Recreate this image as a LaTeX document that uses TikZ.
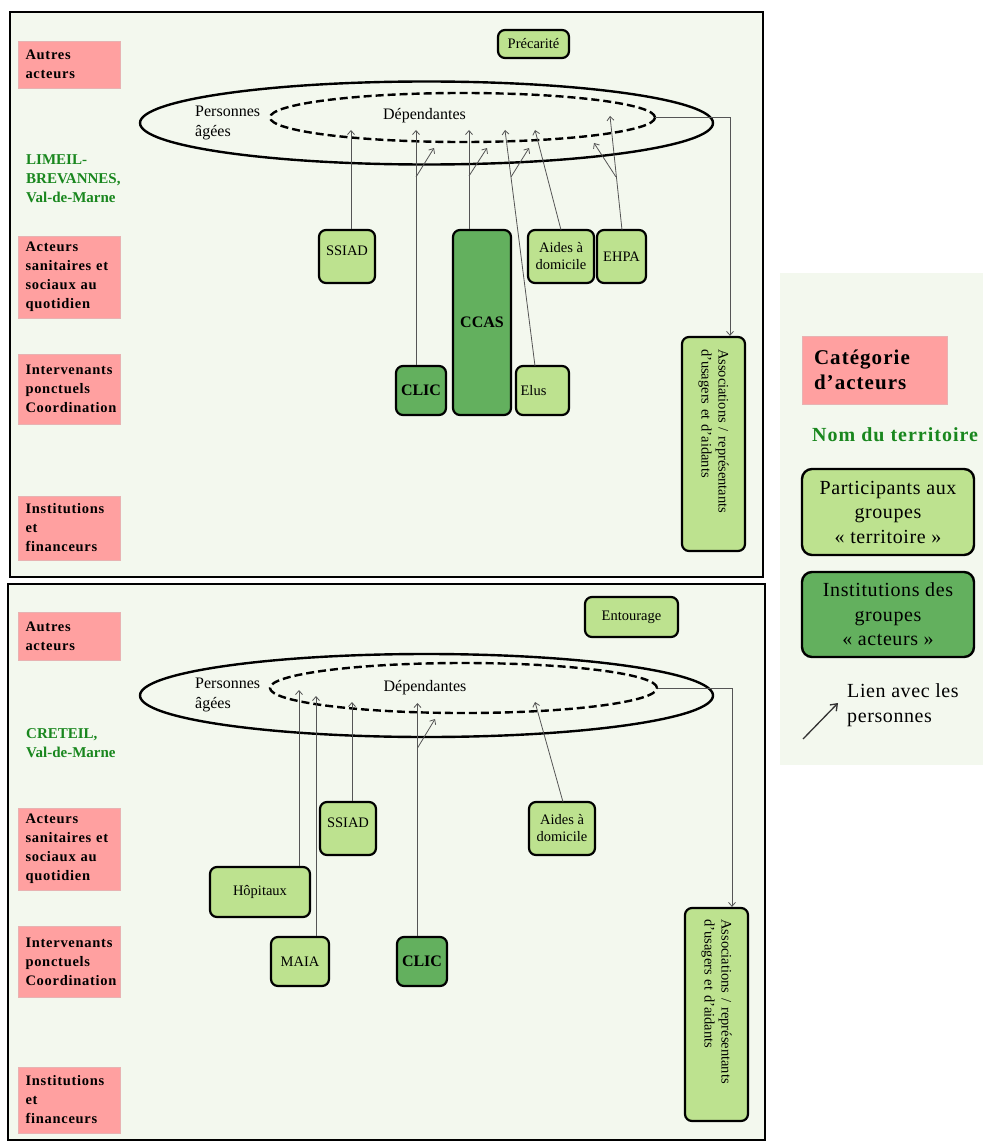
\documentclass[tikz,border=0pt]{standalone}
\usepackage{fontspec}
\setmainfont{Liberation Serif}
\usetikzlibrary{arrows.meta,shapes.geometric}
\definecolor{pinkc}{RGB}{255,160,160}
\definecolor{pinkb}{RGB}{232,178,178}
\definecolor{lgreen}{RGB}{189,226,143}
\definecolor{dgreen}{RGB}{99,176,94}
\definecolor{panelbg}{RGB}{243,248,238}
\definecolor{terrc}{RGB}{25,135,30}
\definecolor{conncol}{RGB}{85,85,85}
\begin{document}
\begin{tikzpicture}[x=1pt,y=-1pt,
  conn/.style={draw=conncol, line width=0.8pt, -{Straight Barb[length=4pt,width=7pt]}},
  nodebox/.style={draw=black, line width=2.2pt, rounded corners=7pt, inner sep=2pt, align=center, font=\fontsize{14.5}{17}\selectfont},
  lg/.style={nodebox, fill=lgreen},
  dg/.style={nodebox, fill=dgreen, font=\bfseries\fontsize{16}{19}\selectfont},
  cat/.style={fill=pinkc, draw=pinkb, line width=0.8pt, align=left, text width=88pt, inner xsep=7pt, inner ysep=0pt, minimum width=102pt, font={\bfseries\fontsize{14.5}{19}\selectfont\addfontfeature{LetterSpace=5}}},
  terr/.style={text=terrc, anchor=west, align=left, inner sep=0pt, font=\bfseries\fontsize{15}{19}\selectfont},
  ell/.style={draw=black, line width=2.4pt, ellipse, inner sep=0pt},
  dell/.style={ell, dash pattern=on 8pt off 4pt},
  lab/.style={inner sep=0pt, font=\fontsize{16}{20}\selectfont},
  legbox/.style={draw=black, line width=2.4pt, rounded corners=10pt, inner sep=2pt, align=center, font={\fontsize{20}{24.5}\selectfont\addfontfeature{LetterSpace=3}}},
  legtxt/.style={inner sep=0pt, align=left, font={\fontsize{20}{24.5}\selectfont\addfontfeature{LetterSpace=3}}}
]
\useasboundingbox (0,0) rectangle (983,1142);
% panels
\draw[draw=black, line width=1.5pt, fill=panelbg] (10,12) rectangle (763,577);
\draw[draw=black, line width=1.5pt, fill=panelbg] (8,584) rectangle (765,1140);
\fill[panelbg] (780,273) rectangle (983,765);

% ===== top panel =====
\node[cat, minimum height=47pt] (ca1) at (69.5,64.5) {Autres\\acteurs};
\node[cat, minimum height=82pt] (cb1) at (69.5,277) {Acteurs\\sanitaires et\\sociaux au\\quotidien};
\node[cat, minimum height=70pt] (cc1) at (69.5,389) {Intervenants\\ponctuels\\Coordination};
\node[cat, minimum height=64pt] (cd1) at (69.5,528) {Institutions\\et\\financeurs};
\node[terr] (terr1) at (26,179) {LIMEIL-\\BREVANNES,\\Val-de-Marne};

\node[ell, minimum width=573pt, minimum height=83pt] (pa1) at (426.5,123) {};
\node[dell, minimum width=385pt, minimum height=49pt] (dep1) at (462.5,117.5) {};
\node[lab, anchor=west, align=left] (pal1) at (195,123) {Personnes\\âgées};
\node[lab] (depl1) at (424.5,116) {Dépendantes};

\node[lg, minimum width=71pt, minimum height=28pt] (prec1) at (533.5,44) {Précarité};
\node[lg, minimum width=56pt, minimum height=53pt] (ssiad1) at (347,256.5) {\raisebox{12pt}{SSIAD}};
\node[dg, minimum width=58pt, minimum height=185pt] (ccas1) at (482,322.5) {CCAS};
\node[lg, minimum width=66pt, minimum height=53pt] (aides1) at (561,256.5) {Aides à\\domicile};
\node[lg, minimum width=49pt, minimum height=53pt] (ehpa1) at (621.5,256.5) {EHPA};
\node[dg, minimum width=50pt, minimum height=49pt] (clic1) at (421,390.5) {CLIC};
\node[lg, minimum width=53pt, minimum height=49pt] (elus1) at (542.5,390.5) {Elus\hspace{18pt}};
\node[lg, rotate=-90, minimum width=214pt, minimum height=63pt, text width=190pt, align=left] (asso1) at (713.5,444) {Associations / représentants\\d’usagers et d’aidants};

% top connectors
\coordinate (ts1) at (351,130);
\draw[conn] (ts1 |- ssiad1.north) -- (ts1);
\coordinate (tc1) at (416,130);
\coordinate (bc1) at (416,177);
\coordinate (ec1) at (434,148);
\draw[conn] (tc1 |- clic1.north) -- (tc1);
\draw[conn] (bc1) -- (ec1);
\coordinate (tca1) at (469,130);
\coordinate (bca1) at (469,176);
\coordinate (eca1) at (487,148);
\draw[conn] (tca1 |- ccas1.north) -- (tca1);
\draw[conn] (bca1) -- (eca1);
\coordinate (se1) at (535,366);
\coordinate (te1) at (505,130);
\coordinate (be1) at (511,177);
\coordinate (ee1) at (529,148);
\draw[conn] (se1) -- (te1);
\draw[conn] (be1) -- (ee1);
\coordinate (sa1) at (561,230);
\coordinate (ta1) at (535,130);
\draw[conn] (sa1) -- (ta1);
\coordinate (sh1) at (622,230);
\coordinate (th1) at (610,116);
\coordinate (bh1) at (616,177);
\coordinate (eh1) at (594,143);
\draw[conn] (sh1) -- (th1);
\draw[conn] (bh1) -- (eh1);
\coordinate (k1) at (730,117.5);
\draw[conn] (dep1.east) -- (k1) -- (k1 |- asso1.west);

% ===== bottom panel =====
\node[cat, minimum height=48pt] (ca2) at (69.5,636) {Autres\\acteurs};
\node[cat, minimum height=82pt] (cb2) at (69.5,849) {Acteurs\\sanitaires et\\sociaux au\\quotidien};
\node[cat, minimum height=71pt] (cc2) at (69.5,961.5) {Intervenants\\ponctuels\\Coordination};
\node[cat, minimum height=66pt] (cd2) at (69.5,1100) {Institutions\\et\\financeurs};
\node[terr] (terr2) at (26,743) {CRETEIL,\\Val-de-Marne};

\node[ell, minimum width=573pt, minimum height=83pt] (pa2) at (426.5,695.5) {};
\node[dell, minimum width=387pt, minimum height=50pt] (dep2) at (463.5,688) {};
\node[lab, anchor=west, align=left] (pal2) at (195,695) {Personnes\\âgées};
\node[lab] (depl2) at (425,688) {Dépendantes};

\node[lg, minimum width=93pt, minimum height=40pt] (ent2) at (631.5,617) {Entourage};
\node[lg, minimum width=56pt, minimum height=53pt] (ssiad2) at (348,828.5) {\raisebox{12pt}{SSIAD}};
\node[lg, minimum width=66pt, minimum height=53pt] (aides2) at (562,828.5) {Aides à\\domicile};
\node[lg, minimum width=100pt, minimum height=50pt] (hop2) at (260,892) {Hôpitaux};
\node[lg, minimum width=58pt, minimum height=49pt] (maia2) at (300,961.5) {MAIA};
\node[dg, minimum width=50pt, minimum height=49pt] (clic2) at (422,961.5) {CLIC};
\node[lg, rotate=-90, minimum width=213pt, minimum height=63pt, text width=190pt, align=left] (asso2) at (716.5,1014.5) {Associations / représentants\\d’usagers et d’aidants};

% bottom connectors
\coordinate (th2) at (299,690);
\draw[conn] (th2 |- hop2.north) -- (th2);
\coordinate (tm2) at (316,696);
\draw[conn] (tm2 |- maia2.north) -- (tm2);
\coordinate (ts2) at (352,702);
\draw[conn] (ts2 |- ssiad2.north) -- (ts2);
\coordinate (tc2) at (417.5,703);
\coordinate (bc2) at (417.5,748);
\coordinate (ec2) at (435,719);
\draw[conn] (tc2 |- clic2.north) -- (tc2);
\draw[conn] (bc2) -- (ec2);
\coordinate (sa2) at (563,802);
\coordinate (ta2) at (535,702);
\draw[conn] (sa2) -- (ta2);
\coordinate (k2) at (732,688);
\draw[conn] (dep2.east) -- (k2) -- (k2 |- asso2.west);

% ===== legend =====
\node[fill=pinkc, draw=pinkb, line width=0.8pt, minimum width=145pt, minimum height=68pt, text width=121pt, inner xsep=12pt, align=left, font={\bfseries\fontsize{21}{25.5}\selectfont\addfontfeature{LetterSpace=5}}] (lcat) at (874.5,370) {Catégorie\\d’acteurs};
\node[inner sep=0pt, anchor=west, text=terrc, font={\bfseries\fontsize{20}{22}\selectfont\addfontfeature{LetterSpace=5}}] (lterr) at (812,435) {Nom du territoire};
\node[legbox, fill=lgreen, minimum width=172pt, minimum height=86pt] (lpart) at (888,512) {Participants aux\\groupes\\« territoire »};
\node[legbox, fill=dgreen, minimum width=172pt, minimum height=85pt] (linst) at (888,614.5) {Institutions des\\groupes\\« acteurs »};
\coordinate (la1) at (803,739);
\coordinate (la2) at (838,703);
\draw[line width=1.3pt, draw=black!80, -{Straight Barb[length=6pt,width=9pt]}] (la1) -- (la2);
\node[legtxt, anchor=west] (llien) at (847,705) {Lien avec les\\personnes};
\end{tikzpicture}
\end{document}
